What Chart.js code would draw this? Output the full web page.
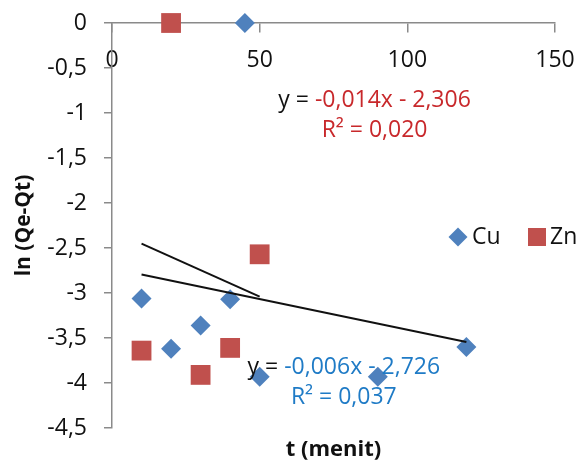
<!DOCTYPE html>
<html>
<head>
<meta charset="utf-8">
<script src="https://cdn.jsdelivr.net/npm/chart.js@4.4.1/dist/chart.umd.min.js"></script>
<style>
  html, body { margin: 0; padding: 0; background: #ffffff; }
  #wrap { width: 579px; height: 465px; position: relative; }
</style>
</head>
<body>
<div id="wrap"><canvas id="chart" width="579" height="465"></canvas></div>
<script>
// Adsorption kinetics: ln(Qe-Qt) against contact time t (minutes)
const cuTime = [10, 20, 30, 40, 45, 50, 90, 120];
const cuLnQ  = [-3.06, -3.62, -3.36, -3.07, 0, -3.93, -3.93, -3.60];
const znTime = [10, 20, 30, 40, 50];
const znLnQ  = [-3.64, 0, -3.91, -3.61, -2.57];

const xTicks = [0, 50, 100, 150];
const yTicks = [0, -0.5, -1, -1.5, -2, -2.5, -3, -3.5, -4, -4.5];

const cuEquation = ['y = ', '-0,006x - 2,726'];
const cuRSquared = 'R² = 0,037';
const znEquation = ['y = ', '-0,014x - 2,306'];
const znRSquared = 'R² = 0,020';

const FONT = '"Open Sans", "Noto Sans", sans-serif';
const AXIS_GREY = '#8a8a8a';
const CU_BLUE = '#4F81BD';
const ZN_RED = '#C0504D';
const CU_TEXT = '#1F7BC6';
const ZN_TEXT = '#C8282B';

// least-squares linear trendline over the data range of a series
function trend(xs, ys) {
  const n = xs.length;
  const mx = xs.reduce((a, b) => a + b, 0) / n;
  const my = ys.reduce((a, b) => a + b, 0) / n;
  let sxy = 0, sxx = 0;
  for (let i = 0; i < n; i++) {
    sxy += (xs[i] - mx) * (ys[i] - my);
    sxx += (xs[i] - mx) * (xs[i] - mx);
  }
  const slope = sxy / sxx;
  const icpt = my - slope * mx;
  const x0 = Math.min(...xs), x1 = Math.max(...xs);
  return [{ x: x0, y: icpt + slope * x0 }, { x: x1, y: icpt + slope * x1 }];
}

const pts = (xs, ys) => xs.map((x, i) => ({ x, y: ys[i] }));

const fmt = v => String(v).replace('.', ',');

// keep the plot area fixed: no extra room for half-labels at the ends
function noEdgePadding(scale) {
  scale.paddingTop = 0;
  scale.paddingBottom = 0;
  scale.paddingLeft = 0;
  scale.paddingRight = 0;
}

// text that sits on the plot: trendline equations, legend and x-axis title
const overlay = {
  id: 'overlay',
  afterDatasetsDraw(chart) {
    const { ctx, scales } = chart;
    const xs = scales.x, ys = scales.y;
    ctx.save();
    ctx.textBaseline = 'middle';

    function equation(parts, r2, color, cx, cy) {
      ctx.font = '23px ' + FONT;
      const w0 = ctx.measureText(parts[0]).width;
      const w1 = ctx.measureText(parts[1]).width;
      let left = cx - (w0 + w1) / 2;
      ctx.textAlign = 'left';
      ctx.fillStyle = '#111111';
      ctx.fillText(parts[0], left, cy);
      ctx.fillStyle = color;
      ctx.fillText(parts[1], left + w0, cy);
      ctx.textAlign = 'center';
      ctx.fillText(r2, cx, cy + 30);
    }
    equation(znEquation, znRSquared, ZN_TEXT, xs.getPixelForValue(88.9), ys.getPixelForValue(-0.86));
    equation(cuEquation, cuRSquared, CU_TEXT, xs.getPixelForValue(78.5), ys.getPixelForValue(-3.83));

    // legend
    const ly = 237;
    ctx.fillStyle = CU_BLUE;
    ctx.beginPath();
    ctx.moveTo(458 - 9.5, ly);
    ctx.lineTo(458, ly - 9.5);
    ctx.lineTo(458 + 9.5, ly);
    ctx.lineTo(458, ly + 9.5);
    ctx.closePath();
    ctx.fill();
    ctx.fillStyle = ZN_RED;
    ctx.fillRect(528, ly - 9, 18, 18);
    ctx.fillStyle = '#111111';
    ctx.font = '23px ' + FONT;
    ctx.textAlign = 'left';
    ctx.fillText('Cu', 472, ly);
    ctx.fillText('Zn', 550, ly);

    // x-axis title
    ctx.font = 'bold 22px ' + FONT;
    ctx.textAlign = 'center';
    ctx.fillText('t (menit)', (chart.chartArea.left + chart.chartArea.right) / 2, 450);
    ctx.restore();
  }
};

new Chart(document.getElementById('chart'), {
  type: 'scatter',
  data: {
    datasets: [
      {
        label: 'Cu',
        data: pts(cuTime, cuLnQ),
        pointStyle: 'rectRot',
        pointRadius: 10,
        pointHoverRadius: 10,
        backgroundColor: CU_BLUE,
        borderColor: CU_BLUE,
        borderWidth: 0,
        clip: false,
        order: 2
      },
      {
        label: 'Zn',
        data: pts(znTime, znLnQ),
        pointStyle: 'rect',
        pointRadius: 14,
        pointHoverRadius: 14,
        backgroundColor: ZN_RED,
        borderColor: ZN_RED,
        borderWidth: 0,
        clip: false,
        order: 2
      },
      {
        label: 'Trend Cu',
        data: trend(cuTime, cuLnQ),
        showLine: true,
        pointRadius: 0,
        borderColor: '#111111',
        borderWidth: 2,
        clip: false,
        order: 1
      },
      {
        label: 'Trend Zn',
        data: trend(znTime, znLnQ),
        showLine: true,
        pointRadius: 0,
        borderColor: '#111111',
        borderWidth: 2,
        clip: false,
        order: 1
      }
    ]
  },
  options: {
    responsive: false,
    animation: false,
    events: [],
    layout: { padding: { top: 23, bottom: 37, right: 24, left: 0 } },
    plugins: {
      legend: { display: false },
      tooltip: { enabled: false }
    },
    scales: {
      x: {
        type: 'linear',
        position: { y: 0 },
        min: 0,
        max: 150,
        afterBuildTicks(scale) { scale.ticks = xTicks.map(v => ({ value: v })); },
        afterFit: noEdgePadding,
        ticks: {
          padding: 15,
          color: '#111111',
          font: { family: FONT, size: 23 },
          maxRotation: 0,
          callback: v => fmt(v)
        },
        grid: {
          drawOnChartArea: false,
          drawTicks: true,
          tickLength: 9,
          color: AXIS_GREY,
          lineWidth: 1.5
        },
        border: { display: true, color: AXIS_GREY, width: 1.5 }
      },
      y: {
        type: 'linear',
        position: 'left',
        min: -4.5,
        max: 0,
        afterBuildTicks(scale) { scale.ticks = yTicks.map(v => ({ value: v })); },
        afterFit(scale) { noEdgePadding(scale); scale.width = 112; },
        ticks: {
          padding: 17,
          color: '#111111',
          font: { family: FONT, size: 23 },
          callback: v => fmt(v)
        },
        grid: {
          drawOnChartArea: false,
          drawTicks: true,
          tickLength: 8,
          color: AXIS_GREY,
          lineWidth: 1.5
        },
        border: { display: true, color: AXIS_GREY, width: 1.5 },
        title: {
          display: true,
          text: 'ln (Qe-Qt)',
          color: '#111111',
          font: { family: FONT, size: 21, weight: 'bold' },
          padding: { top: 11, bottom: 0 }
        }
      }
    }
  },
  plugins: [overlay]
});
</script>
</body>
</html>
